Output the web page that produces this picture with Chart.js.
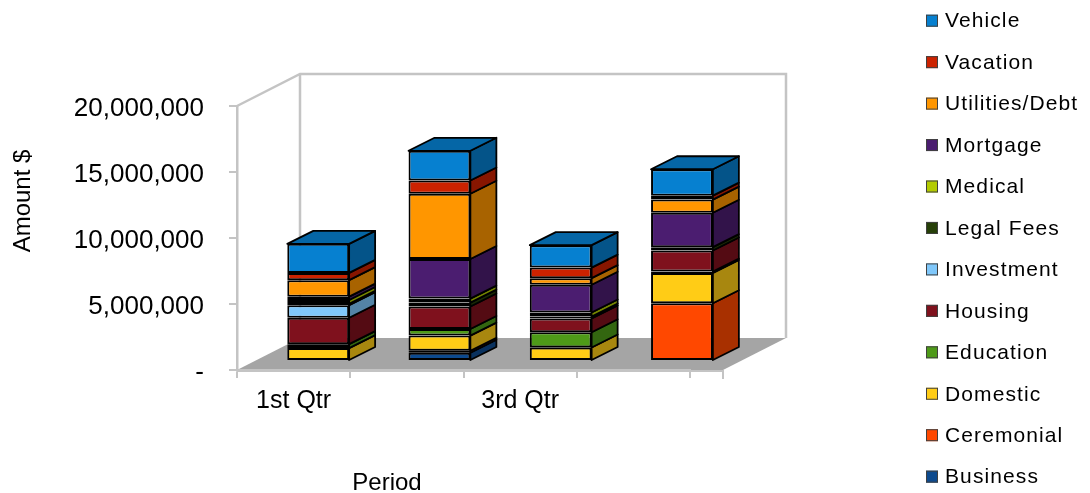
<!DOCTYPE html>
<html>
<head>
<meta charset="utf-8">
<script src="https://cdn.jsdelivr.net/npm/chart.js@4.4.1/dist/chart.umd.min.js"></script>
<style>
  html, body { margin: 0; padding: 0; background: #ffffff; }
  #wrap { width: 1090px; height: 493px; }
</style>
</head>
<body>
<div id="wrap"><canvas id="chart" width="1090" height="493"></canvas></div>
<script>
// Periods and axis ticks
const quarters = ['1st Qtr', '2nd Qtr', '3rd Qtr', '4th Qtr'];
const amountTicks = [0, 5000000, 10000000, 15000000, 20000000];

// Spending per category and quarter, stacked from the bottom up
const seriesNames = ['Business', 'Ceremonial', 'Domestic', 'Education', 'Housing', 'Investment',
                     'Legal Fees', 'Medical', 'Mortgage', 'Utilities/Debt', 'Vacation', 'Vehicle'];
const business   = [0,       550000,  0,       0];
const ceremonial = [0,       150000,  0,       4300000];
const domestic   = [900000,  1150000, 950000,  2300000];
const education  = [300000,  500000,  1150000, 100000];
const housing    = [2000000, 1700000, 1050000, 1600000];
const investment = [950000,  0,       0,       0];
const legalFees  = [100000,  300000,  150000,  250000];
const medical    = [300000,  300000,  300000,  0];
const mortgage   = [250000,  3000000, 2100000, 2600000];
const utilities  = [1250000, 4950000, 500000,  1000000];
const vacation   = [550000,  1000000, 800000,  300000];
const vehicle    = [2200000, 2250000, 1700000, 2000000];
const seriesValues = [business, ceremonial, domestic, education, housing, investment,
                      legalFees, medical, mortgage, utilities, vacation, vehicle];

// Fill colours of the front faces
const seriesColors = ['#0d4a8e', '#ff4800', '#ffcc16', '#4e9a18', '#7f111d', '#80c8fb',
                      '#263f08', '#b3cb00', '#4b1d70', '#ff9600', '#cc2200', '#0680d0'];

// Oblique projection of the plot box and of the columns (pixels)
const boxDepth = { dx: 63, dy: -32 };
const floorWidth = 486;
const barDepth = { dx: 26, dy: -13 };
const gridGray = '#c4c4c4';
const fontFamily = '"Liberation Sans", Arial, sans-serif';

function shade(hex, f) {
  const n = parseInt(hex.slice(1), 16);
  const r = Math.round(((n >> 16) & 255) * f);
  const g = Math.round(((n >> 8) & 255) * f);
  const b = Math.round((n & 255) * f);
  return `rgb(${r},${g},${b})`;
}

const datasets = seriesNames.map((name, k) => ({
  label: name,
  data: seriesValues[k].map((v, i) => ({ x: i, y: v })),
  backgroundColor: seriesColors[k],
  xAxisID: 'xb',
  yAxisID: 'yb'
}));

// Walls, floor, column sides/tops, axis titles and the legend
const boxPlugin = {
  id: 'box3d',
  beforeDraw(chart) {
    const { ctx, chartArea: a } = chart;
    const L = a.left, T = a.top, B = a.bottom, R = a.left + floorWidth;
    const { dx, dy } = boxDepth;
    ctx.save();
    ctx.fillStyle = '#ffffff';
    ctx.beginPath();
    ctx.moveTo(L, B); ctx.lineTo(L, T); ctx.lineTo(L + dx, T + dy);
    ctx.lineTo(R + dx, T + dy); ctx.lineTo(R + dx, B + dy); ctx.lineTo(L + dx, B + dy);
    ctx.closePath(); ctx.fill();
    ctx.strokeStyle = gridGray; ctx.lineWidth = 2.5;
    ctx.beginPath();
    ctx.moveTo(L, T); ctx.lineTo(L + dx, T + dy); ctx.lineTo(R + dx, T + dy); ctx.lineTo(R + dx, B + dy);
    ctx.moveTo(L + dx, T + dy); ctx.lineTo(L + dx, B + dy);
    ctx.stroke();
    // floor
    ctx.fillStyle = '#a5a5a5';
    ctx.beginPath();
    ctx.moveTo(L, B); ctx.lineTo(R, B); ctx.lineTo(R + dx, B + dy); ctx.lineTo(L + dx, B + dy);
    ctx.closePath(); ctx.fill();
    ctx.strokeStyle = gridGray; ctx.lineWidth = 2;
    ctx.beginPath();
    ctx.moveTo(L, B + 1); ctx.lineTo(R, B + 1); ctx.lineTo(R, B + 9);
    ctx.stroke();
    ctx.restore();
  },
  afterDatasetsDraw(chart) {
    const { ctx } = chart;
    const { dx, dy } = barDepth;
    const count = quarters.length;
    const tops = new Array(count).fill(null);
    ctx.save();
    ctx.strokeStyle = '#000000';
    ctx.lineWidth = 1.8;
    ctx.lineJoin = 'round';
    chart.data.datasets.forEach((ds, k) => {
      const meta = chart.getDatasetMeta(k);
      meta.data.forEach((bar, i) => {
        if (!seriesValues[k][i]) return;
        const p = bar.getProps(['x', 'y', 'base', 'width'], true);
        const left = p.x - p.width / 2, right = p.x + p.width / 2;
        const top = Math.min(p.y, p.base), bottom = Math.max(p.y, p.base);
        ctx.fillStyle = shade(seriesColors[k], 0.66);
        ctx.beginPath();
        ctx.moveTo(right, top); ctx.lineTo(right + dx, top + dy);
        ctx.lineTo(right + dx, bottom + dy); ctx.lineTo(right, bottom);
        ctx.closePath(); ctx.fill(); ctx.stroke();
        if (!tops[i] || top < tops[i].top) tops[i] = { left, right, top, k };
      });
    });
    tops.forEach(t => {
      if (!t) return;
      ctx.fillStyle = shade(seriesColors[t.k], 0.8);
      ctx.beginPath();
      ctx.moveTo(t.left, t.top); ctx.lineTo(t.left + dx, t.top + dy);
      ctx.lineTo(t.right + dx, t.top + dy); ctx.lineTo(t.right, t.top);
      ctx.closePath(); ctx.fill(); ctx.stroke();
    });
    ctx.restore();
  },
  afterDraw(chart) {
    const { ctx } = chart;
    ctx.save();
    ctx.fillStyle = '#000000';
    ctx.textBaseline = 'middle';
    // axis titles
    ctx.font = `24px ${fontFamily}`;
    ctx.textAlign = 'center';
    ctx.fillText('Period', 387, 483);
    ctx.save();
    ctx.translate(23, 201);
    ctx.rotate(-Math.PI / 2);
    ctx.fillText('Amount $', 0, 0);
    ctx.restore();
    // legend, top item is the last series
    ctx.font = `21px ${fontFamily}`;
    ctx.textAlign = 'left';
    if ('letterSpacing' in ctx) ctx.letterSpacing = '1.1px';
    const n = seriesNames.length;
    for (let j = 0; j < n; j++) {
      const k = n - 1 - j;
      const cy = 20.7 + j * 41.45;
      ctx.fillStyle = seriesColors[k];
      ctx.fillRect(926, cy - 6, 12, 12);
      ctx.strokeStyle = '#404040';
      ctx.lineWidth = 1;
      ctx.strokeRect(926.5, cy - 5.5, 11, 11);
      ctx.fillStyle = '#000000';
      ctx.fillText(seriesNames[k], 945, cy + 1);
    }
    ctx.restore();
  }
};

const tickFont = { family: fontFamily, size: 26 };

new Chart(document.getElementById('chart'), {
  type: 'bar',
  data: { labels: quarters, datasets },
  plugins: [boxPlugin],
  options: {
    responsive: false,
    animation: false,
    devicePixelRatio: 1,
    layout: { padding: { left: 0, right: 400, top: 106, bottom: 0 } },
    plugins: { legend: { display: false }, tooltip: { enabled: false } },
    datasets: {
      bar: {
        categoryPercentage: 0.51,
        barPercentage: 1,
        borderColor: '#000000',
        borderWidth: 2,
        borderSkipped: false,
        clip: false
      }
    },
    scales: {
      x: {
        type: 'category',
        position: 'bottom',
        offset: true,
        grid: { offset: true, drawOnChartArea: false, color: gridGray, lineWidth: 2, tickLength: 8 },
        border: { color: gridGray, width: 2.5 },
        ticks: {
          autoSkip: false, maxRotation: 0, padding: 8, color: '#000000',
          font: { family: fontFamily, size: 25 },
          callback: (v, i) => (i % 2 === 0 ? quarters[i] : '')
        },
        afterFit: s => { s.height = 123; }
      },
      y: {
        type: 'linear',
        position: 'left',
        min: 0,
        max: 20000000,
        afterBuildTicks: s => { s.ticks = amountTicks.map(v => ({ value: v })); },
        grid: { drawOnChartArea: false, color: gridGray, lineWidth: 2, tickLength: 8 },
        border: { color: gridGray, width: 2.5 },
        ticks: {
          padding: 25, color: '#000000', font: tickFont, labelOffset: 3,
          callback: v => (v === 0 ? '-' : Number(v).toLocaleString('en-US'))
        },
        afterFit: s => { s.width = 237; }
      },
      // column planes, set back from the front of the box by a third of its depth
      xb: {
        type: 'linear', position: 'bottom', display: false, stacked: true, offset: false,
        min: -0.6697, max: 3.0663,
        afterBuildTicks: s => { s.ticks = quarters.map((q, i) => ({ value: i })); }
      },
      yb: {
        type: 'linear', position: 'left', display: false, stacked: true, offset: false,
        min: -757576, max: 19242424
      }
    }
  }
});
</script>
</body>
</html>
